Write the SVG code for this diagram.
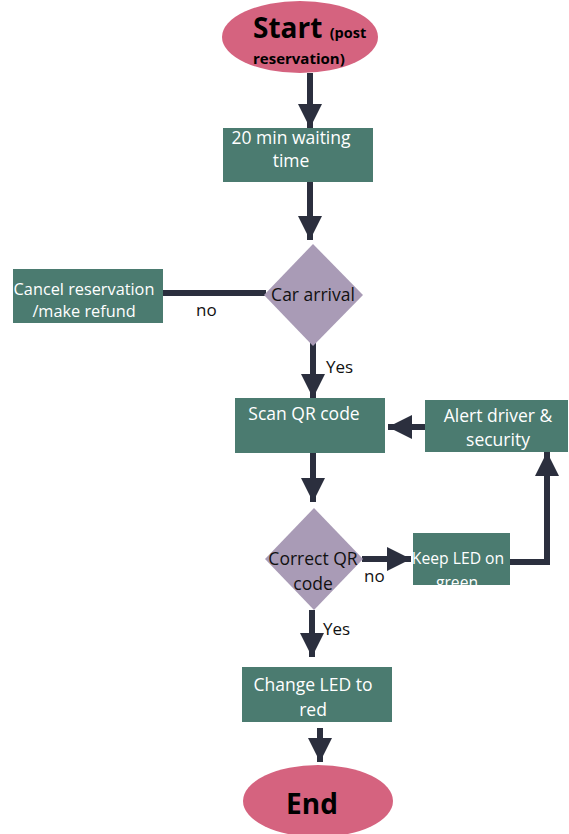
<svg xmlns="http://www.w3.org/2000/svg" width="569" height="834" viewBox="0 0 569 834">
<defs>
<style>
.box{fill:#4b7b70;}
.term{fill:#d5637f;}
.dec{fill:#a99bb6;}
.wt{font-family:"Open Sans","Noto Sans",sans-serif;font-size:17.5px;fill:#ffffff;text-anchor:middle;}
.wt.sm{font-size:16.3px;}
.wt.xs{font-size:15.7px;}
.bt{font-family:"Open Sans","Noto Sans",sans-serif;font-size:17.5px;fill:#111111;text-anchor:middle;}
.lbl{font-family:"Open Sans","Noto Sans",sans-serif;font-size:17px;fill:#111111;}
.big{font-family:"Open Sans","Noto Sans",sans-serif;font-weight:bold;fill:#000000;}
.ln{stroke:#2b2f3e;stroke-width:6;fill:none;}
</style>
<marker id="ah" viewBox="0 0 10 10" refX="10" refY="5" markerWidth="4.2" markerHeight="4" markerUnits="strokeWidth" orient="auto">
<path d="M0,0 L10,5 L0,10 Z" fill="#2b2f3e"/>
</marker>
</defs>
<rect width="569" height="834" fill="#ffffff"/>

<g id="connectors">
<line class="ln" x1="310" y1="73" x2="310" y2="128" marker-end="url(#ah)"/>
<line class="ln" x1="310" y1="182" x2="310" y2="240" marker-end="url(#ah)"/>
<line class="ln" x1="163" y1="293" x2="266" y2="293"/>
<line class="ln" x1="313" y1="342" x2="313" y2="398" marker-end="url(#ah)"/>
<line class="ln" x1="425" y1="427" x2="388" y2="427" marker-end="url(#ah)"/>
<line class="ln" x1="313" y1="453" x2="313" y2="502" marker-end="url(#ah)"/>
<line class="ln" x1="362" y1="559" x2="411" y2="559" marker-end="url(#ah)"/>
<polyline class="ln" points="508,562 547,562 547,452" marker-end="url(#ah)"/>
<line class="ln" x1="312" y1="610" x2="312" y2="657" marker-end="url(#ah)"/>
<line class="ln" x1="320" y1="728" x2="320" y2="762" marker-end="url(#ah)"/>
<text class="lbl" x="196" y="316">no</text>
<text class="lbl" x="326" y="373">Yes</text>
<text class="lbl" x="364" y="582">no</text>
<text class="lbl" x="323" y="635">Yes</text>
</g>

<g id="start">
<ellipse class="term" cx="300" cy="37" rx="78" ry="36"/>
<text class="big" x="253" y="38" font-size="28">Start <tspan font-size="14.5">(post</tspan></text>
<text class="big" x="253" y="64" font-size="15">reservation)</text>
</g>

<g id="wait">
<rect class="box" x="223" y="128" width="150" height="54"/>
<text class="wt" x="291" y="144">20 min waiting</text>
<text class="wt" x="291" y="167">time</text>
</g>

<g id="car">
<polygon class="dec" points="313,244 363,295 313,346 264,295"/>
<text class="bt" x="313" y="301">Car arrival</text>
</g>

<g id="cancel">
<rect class="box" x="13" y="269" width="150" height="54"/>
<text class="wt sm" x="84" y="295">Cancel reservation</text>
<text class="wt sm" x="84" y="317">/make refund</text>
</g>

<g id="scan">
<rect class="box" x="235" y="398" width="150" height="55"/>
<text class="wt" x="304" y="420">Scan QR code</text>
</g>

<g id="alert">
<rect class="box" x="425" y="400" width="143" height="52"/>
<text class="wt" x="498" y="422">Alert driver &amp;</text>
<text class="wt" x="498" y="446">security</text>
</g>

<g id="correct">
<polygon class="dec" points="314,508 363,559 314,610 265,559"/>
<text class="bt" x="313" y="565">Correct QR</text>
<text class="bt" x="313" y="590">code</text>
</g>

<g id="keep">
<rect class="box" x="413" y="533" width="97" height="52"/>
<text class="wt xs" x="458" y="564">Keep LED on</text>
<text class="wt xs" x="457" y="588">green</text>
</g>

<g id="change">
<rect class="box" x="242" y="667" width="150" height="55"/>
<text class="wt" x="313" y="691">Change LED to</text>
<text class="wt" x="313" y="716">red</text>
</g>

<g id="end">
<ellipse class="term" cx="318" cy="801" rx="75" ry="36"/>
<text class="big" x="312" y="814" font-size="28" text-anchor="middle">End</text>
</g>
</svg>
